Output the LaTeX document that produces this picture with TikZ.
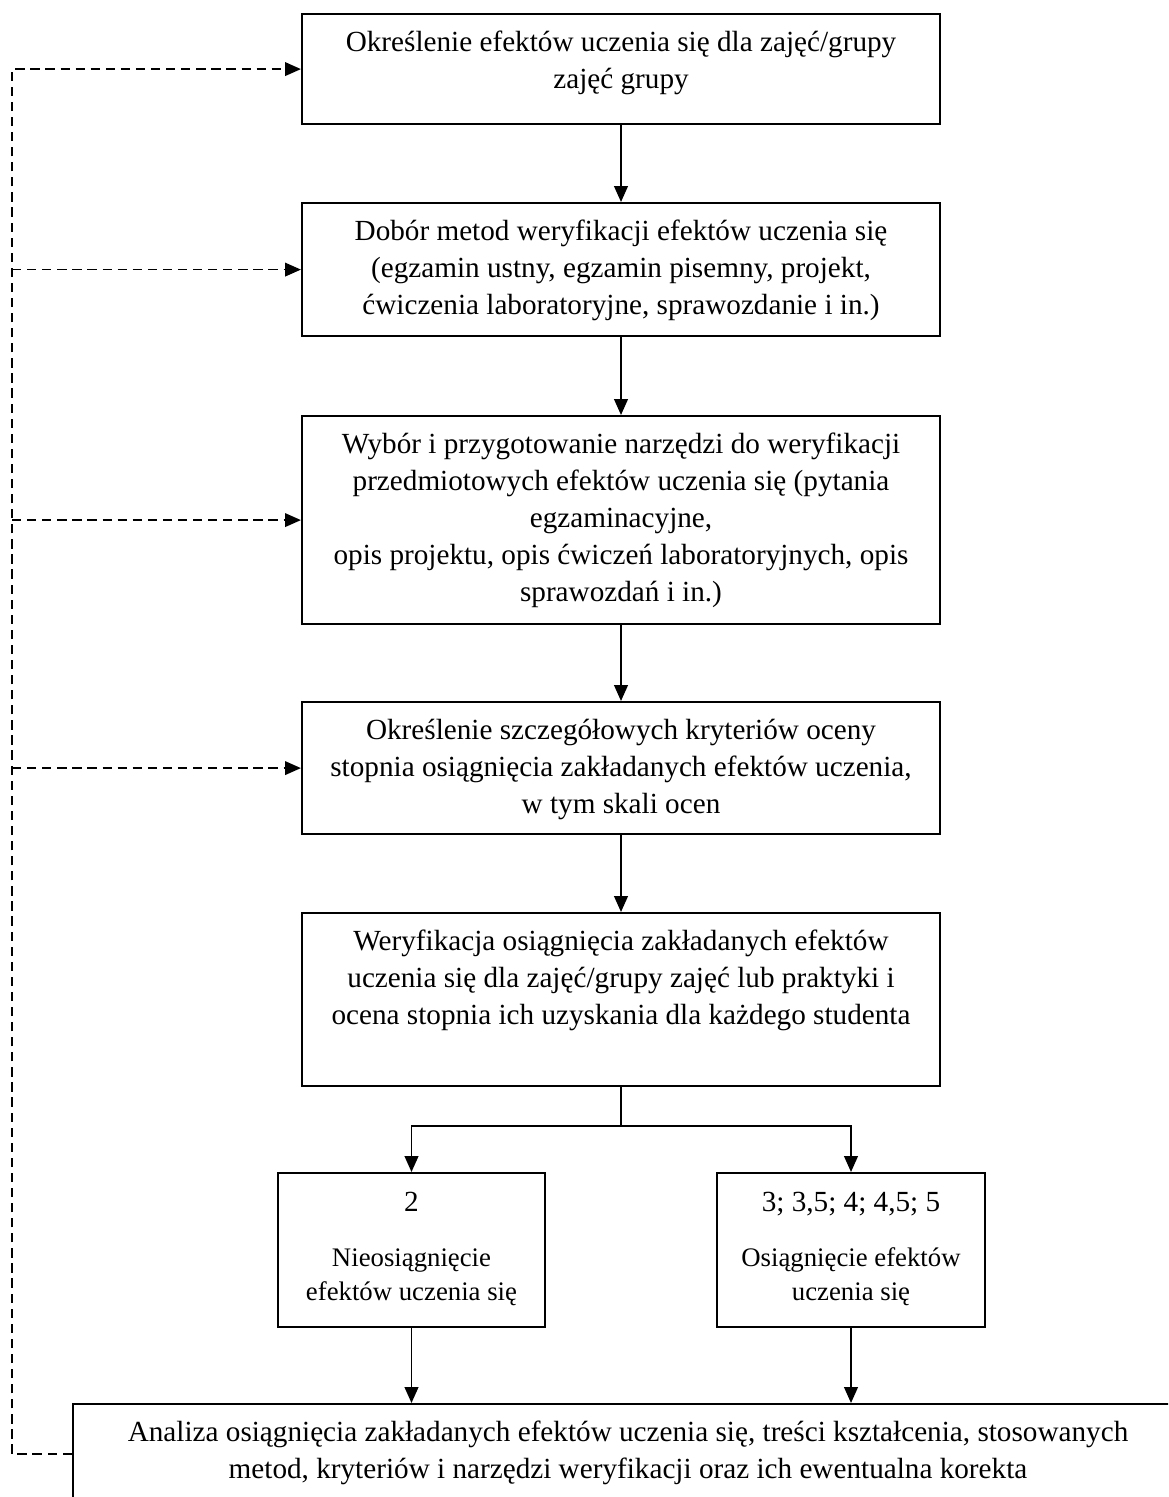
\documentclass[tikz,border=0pt]{standalone}
\usepackage{fontspec}
\setmainfont{Liberation Serif}
\usetikzlibrary{arrows.meta}
\newdimen\pxu \pxu=0.411pt
\newcommand{\bx}[3]{\parbox[c][#1\pxu][t]{#2\pxu}{\centering\fontsize{12pt}{15.2pt}\selectfont\rule{0pt}{37\pxu}#3\par}}
\newcommand{\smallbx}[4]{\parbox[c][#1\pxu][t]{#2\pxu}{\centering\fontsize{12pt}{15.2pt}\selectfont\rule{0pt}{38\pxu}#3\par\vspace{21\pxu}\fontsize{11pt}{14pt}\selectfont #4\par}}
\begin{document}
\begin{tikzpicture}[x=0.411pt,y=-0.411pt,
  box/.style={draw,line width=0.9pt,inner sep=0pt,anchor=north},
  arr/.style={line width=0.75pt,-{Triangle[length=6.5pt,width=5.6pt]}},
  darr/.style={line width=0.65pt,dash pattern=on 3.8pt off 2.4pt,-{Triangle[length=6.5pt,width=5.6pt]}}]
\clip (0,0) rectangle (1168,1497);
\fill[white] (0,0) rectangle (1168,1497);

\node[box] (b1) at (621,13) {\bx{110}{638}{Określenie efektów uczenia się dla zajęć/grupy\\zajęć grupy}};
\node[box] (b2) at (621,202) {\bx{133}{638}{Dobór metod weryfikacji efektów uczenia się\\(egzamin ustny, egzamin pisemny, projekt,\\ćwiczenia laboratoryjne, sprawozdanie i in.)}};
\node[box] (b3) at (621,415) {\bx{208}{638}{Wybór i przygotowanie narzędzi do weryfikacji\\przedmiotowych efektów uczenia się (pytania\\egzaminacyjne,\\opis projektu, opis ćwiczeń laboratoryjnych, opis\\sprawozdań i in.)}};
\node[box] (b4) at (621,701) {\bx{132}{638}{Określenie szczegółowych kryteriów oceny\\stopnia osiągnięcia zakładanych efektów uczenia,\\w tym skali ocen}};
\node[box] (b5) at (621,912) {\bx{173}{638}{Weryfikacja osiągnięcia zakładanych efektów\\uczenia się dla zajęć/grupy zajęć lub praktyki i\\ocena stopnia ich uzyskania dla każdego studenta}};
\node[box] (s1) at (411.5,1172) {\smallbx{154}{267}{2}{Nieosiągnięcie\\efektów uczenia się}};
\node[box] (s2) at (851,1172) {\smallbx{154}{268}{3; 3,5; 4; 4,5; 5}{Osiągnięcie efektów\\uczenia się}};
\node[box] (bot) at (628,1403) {\bx{100}{1110}{Analiza osiągnięcia zakładanych efektów uczenia się, treści kształcenia, stosowanych\\metod, kryteriów i narzędzi weryfikacji oraz ich ewentualna korekta}};

\draw[arr] (b1.south) -- (b2.north);
\draw[arr] (b2.south) -- (b3.north);
\draw[arr] (b3.south) -- (b4.north);
\draw[arr] (b4.south) -- (b5.north);
\draw[line width=0.75pt] (b5.south) -- ++(0,39) coordinate (split);
\draw[arr] (split) -| (s1.north);
\draw[arr] (split) -| (s2.north);
\draw[arr] (s1.south) -- (s1.south |- bot.north);
\draw[arr] (s2.south) -- (s2.south |- bot.north);

\coordinate (rail) at (12,0);
\draw[darr] (bot.west) -- (rail |- bot.west) -- (rail |- b1.west) -- (b1.west);
\draw[darr] (rail |- b2.west) -- (b2.west);
\draw[darr] (rail |- b3.west) -- (b3.west);
\draw[darr] (rail |- b4.west) -- (b4.west);
\end{tikzpicture}
\end{document}
